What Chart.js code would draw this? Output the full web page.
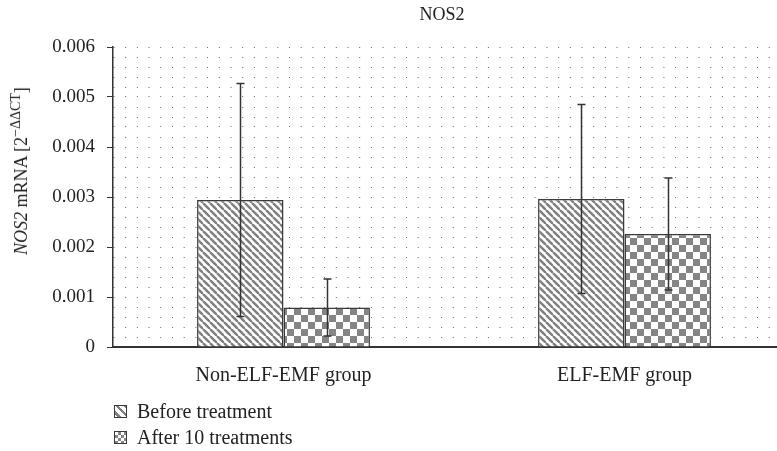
<!DOCTYPE html>
<html>
<head>
<meta charset="utf-8">
<script src="https://cdn.jsdelivr.net/npm/chart.js@4/dist/chart.umd.min.js"></script>
<style>
  body { margin: 0; background: #fff; overflow: hidden; width: 777px; height: 451px; position: relative;
         font-family: 'Liberation Serif', 'DejaVu Serif', serif; color: #222; }
  #wrap { position: absolute; left: 0; top: 0; width: 800px; height: 451px; }
  #title { position: absolute; left: 392px; width: 100px; top: 4px; text-align: center; font-size: 18px; }
  #ylabel { position: absolute; left: 20px; top: 171px; white-space: nowrap; font-size: 18px;
            transform: translate(-50%, -50%) rotate(-90deg); }
  #ylabel sup { font-size: 14px; vertical-align: 7px; }
  .legend { position: absolute; left: 114px; font-size: 20px; display: flex; align-items: center; }
  .legend .sw { width: 11px; height: 11px; border: 1.5px solid #3a3a3a; margin-right: 10px; }
  .sw.stripe { background: repeating-linear-gradient(45deg, #fff 0 2px, #7f7f7f 2px 4.5px, #fff 4.5px 6px); }
  .sw.check { background: conic-gradient(#858585 25%, #fff 0 50%, #858585 0 75%, #fff 0); background-size: 6px 6px; }
</style>
</head>
<body>
<div id="wrap"><canvas id="chart" width="800" height="451"></canvas></div>
<div id="title">NOS2</div>
<div id="ylabel"><i>NOS2</i> mRNA [2<sup>−ΔΔCT</sup>]</div>
<div class="legend" style="top:400px"><span class="sw stripe"></span>Before treatment</div>
<div class="legend" style="top:426px"><span class="sw check"></span>After 10 treatments</div>
<script>
const groups = ['Non-ELF-EMF group', 'ELF-EMF group'];
const seriesNames = ['Before treatment', 'After 10 treatments'];
const beforeMean = [0.00294, 0.00296];
const beforeSD = [0.00233, 0.00189];
const afterMean = [0.00079, 0.00226];
const afterSD = [0.00057, 0.00112];
const yTicks = [0, 0.001, 0.002, 0.003, 0.004, 0.005, 0.006];

// hatch fills
function stripePattern() {
  const s = 7, c = document.createElement('canvas');
  c.width = s; c.height = s;
  const g = c.getContext('2d');
  g.fillStyle = '#fff'; g.fillRect(0, 0, s, s);
  g.strokeStyle = '#7f7f7f'; g.lineWidth = 2.4;
  [-s, 0, s].forEach(o => { g.beginPath(); g.moveTo(o, 0); g.lineTo(o + s, s); g.stroke(); });
  return g.createPattern(c, 'repeat');
}

function checkPattern() {
  const s = 7, c = document.createElement('canvas');
  c.width = s * 2; c.height = s * 2;
  const g = c.getContext('2d');
  g.fillStyle = '#fff'; g.fillRect(0, 0, s * 2, s * 2);
  g.fillStyle = '#858585';
  g.fillRect(0, 0, s, s); g.fillRect(s, s, s, s);
  return g.createPattern(c, 'repeat');
}

const isMajor = v => yTicks.some(t => Math.abs(t - v) < 1e-9);

// error bars drawn on top of the bars, positioned through the y scale
const errorBars = {
  id: 'errorBars',
  afterDatasetsDraw(chart) {
    const ctx = chart.ctx, y = chart.scales.y;
    ctx.save();
    ctx.strokeStyle = '#333';
    ctx.lineWidth = 1.5;
    chart.data.datasets.forEach((ds, i) => {
      chart.getDatasetMeta(i).data.forEach((bar, j) => {
        const top = y.getPixelForValue(ds.data[j] + ds.sd[j]);
        const bot = y.getPixelForValue(ds.data[j] - ds.sd[j]);
        const x = Math.round(bar.x) + 0.5;
        ctx.beginPath();
        ctx.moveTo(x, top); ctx.lineTo(x, bot);
        ctx.moveTo(x - 4, top); ctx.lineTo(x + 4, top);
        ctx.moveTo(x - 4, bot); ctx.lineTo(x + 4, bot);
        ctx.stroke();
      });
    });
    ctx.restore();
  }
};

new Chart(document.getElementById('chart'), {
  type: 'bar',
  data: {
    labels: groups,
    datasets: [
      { label: seriesNames[0], data: beforeMean, sd: beforeSD, backgroundColor: stripePattern(),
        borderColor: '#3a3a3a', borderWidth: 1.5 },
      { label: seriesNames[1], data: afterMean, sd: afterSD, backgroundColor: checkPattern(),
        borderColor: '#3a3a3a', borderWidth: 1.5 }
    ]
  },
  options: {
    responsive: false,
    animation: false,
    layout: { padding: { top: 47, right: 5, left: 0, bottom: 0 } },
    datasets: { bar: { categoryPercentage: 0.507, barPercentage: 1 } },
    plugins: { legend: { display: false }, tooltip: { enabled: false } },
    scales: {
      x: {
        grid: { display: false },
        border: { color: '#333', width: 2 },
        ticks: { color: '#222', padding: 9, font: { family: 'Liberation Serif', size: 20 } },
        afterFit: s => { s.height = 104; }
      },
      y: {
        min: 0, max: 0.006,
        afterFit: s => { s.width = 113; },
        afterBuildTicks: s => {
          // minor rows every 0.0002 make the dotted lattice
          const t = [];
          for (let i = 0; i <= 30; i++) t.push({ value: +(i * 0.0002).toFixed(4) });
          s.ticks = t;
        },
        ticks: {
          autoSkip: false, padding: 12, color: '#222',
          font: { family: 'Liberation Serif', size: 19 },
          callback: v => isMajor(v) ? (v === 0 ? '0' : v.toFixed(3)) : ''
        },
        grid: {
          color: '#666', lineWidth: 1,
          tickLength: 6,
          tickColor: c => isMajor(c.tick.value) ? '#333' : 'rgba(0,0,0,0)',
          tickBorderDash: []
        },
        border: { color: '#333', width: 1.5, dash: [1, 10.7] }
      }
    }
  },
  plugins: [errorBars]
});
</script>
</body>
</html>
